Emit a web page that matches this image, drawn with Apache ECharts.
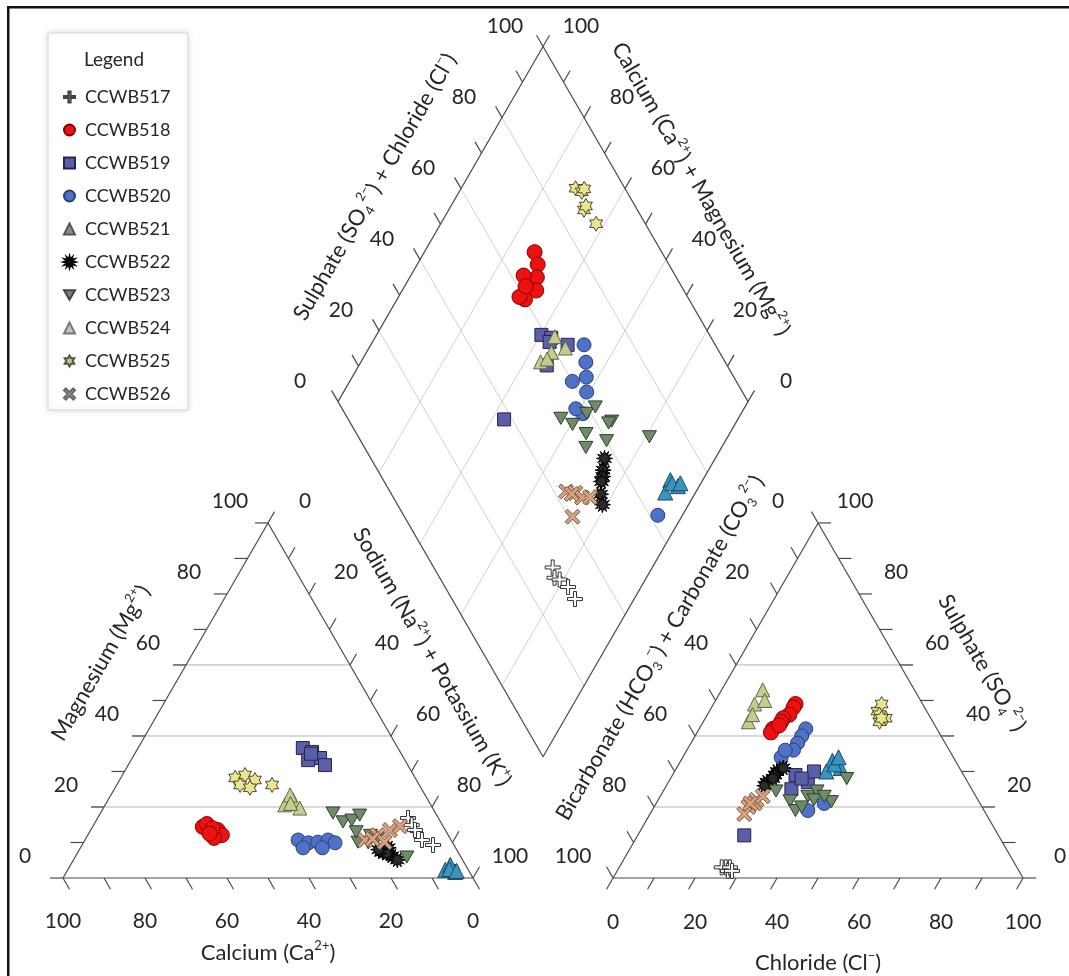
<!DOCTYPE html>
<html><head><meta charset="utf-8">
<script src="https://cdn.jsdelivr.net/npm/echarts@6/dist/echarts.min.js"></script>
<style>html,body{margin:0;padding:0;background:#fff}#c{width:1069px;height:976px}</style>
</head><body><div id="c"></div>
<script>
// ================= DATA =================
const seriesNames = ['CCWB517','CCWB518','CCWB519','CCWB520','CCWB521','CCWB522','CCWB523','CCWB524','CCWB525','CCWB526'];
// cations per sample: [Ca, Mg, Na+K] (% meq)
const cat517 = [[7.4,16.9,75.7],[7.5,14.9,77.6],[7.4,13.5,79.1],[7.1,10.7,82.2],[5.1,9.3,85.6]];
const cat518 = [[58.7,14.4,26.9],[57.6,13.0,29.4],[55.5,13.5,31.0],[55.2,12.1,32.7],[57.3,15.2,27.5],[57.5,11.3,31.2],[56.5,14.0,29.5],[58.0,12.5,29.5]];
const cat519 = [[23.2,36.6,40.2],[21.5,35.5,43.0],[20.4,33.8,45.8],[20.2,31.8,48.0],[23.6,33.2,43.2],[22.0,35.0,43.0]];
const cat520 = [[37.3,10.7,52.0],[35.2,9.9,54.9],[32.8,10.1,57.1],[30.0,10.7,59.3],[28.7,9.9,61.4],[37.2,8.5,54.3],[32.5,8.5,59.0],[4.0,2.0,94.0]];
const cat521 = [[5.6,2.3,92.1],[3.5,1.7,94.8],[3.7,3.7,92.6],[4.5,2.5,93.0],[3.0,2.0,95.0]];
const cat522 = [[18.4,7.3,74.3],[16.7,6.2,77.1],[16.4,8.5,75.1],[15.9,5.1,79.0],[17.5,7.0,75.5],[19.0,8.0,73.0]];
const cat523 = [[25.0,18.3,56.7],[23.8,15.8,60.4],[21.4,16.3,62.3],[18.8,17.7,63.5],[23.0,10.1,66.9],[20.6,9.9,69.5],[17.7,11.3,71.0],[13.2,5.9,80.9],[22.0,13.0,65.0],[19.0,12.0,69.0]];
const cat524 = [[35.6,20.6,43.8],[32.9,22.0,45.1],[32.4,19.7,47.9],[32.9,23.4,43.7],[34.0,21.0,45.0]];
const cat525 = [[43.9,28.2,27.9],[41.1,29.0,29.9],[39.4,27.6,33.0],[43.7,26.2,30.1],[41.7,25.4,32.9],[35.9,26.2,37.9]];
const cat526 = [[21.0,10.7,68.3],[17.2,12.1,70.7],[13.5,13.5,73.0],[10.5,14.6,74.9],[16.5,10.1,73.4],[19.0,11.0,70.0]];
// anions per sample: [HCO3+CO3, SO4, Cl] (% meq)
const an517 = [[71,3,26],[72,3,25],[71,2,27],[70,3,27],[70,2,28]];
const an518 = [[31,49,20],[32,48,20],[34,46,20],[36,45,19],[37,44,19],[40,42,18],[41,41,18],[38,43,19]];
const an519 = [[41,29,30],[39,27,34],[44,25,31],[36,30,34],[40,28,32],[62,12,26]];
const an520 = [[32,42,26],[34,40,26],[36,38,26],[38,36,26],[42,34,24],[40,36,24],[43,19,38],[38,21,41]];
const an521 = [[30,33,37],[29,31,40],[33,30,37],[30,32,38],[28,34,38]];
const an522 = [[45,30,25],[49,27,24],[46,29,25],[50,26,24],[47,28,25],[43,31,26]];
const an523 = [[48,24.5,27.5],[46,21.7,32.3],[41,23,36],[38,24.5,37.5],[46,19,35],[36,21.5,42.5],[40,22,38],[29,28,43],[44,20,36],[37,23,40]];
const an524 = [[45,44,11],[41,49,10],[37,53,10],[38,50,12],[43,46,11]];
const an525 = [[12,47,41],[11,45,44],[13,44,43],[10,49,41],[12,46,42],[12,45,43]];
const an526 = [[57,20,23],[55,21,24],[54,22,24],[52,23,25],[59,18,23],[56,21,23]];
// tick values / labels
const tickValues = [0,20,40,60,80,100];
const tickLabels = ['0','20','40','60','80','100'];
const minorTicks = [0,10,20,30,40,50,60,70,80,90,100];
// axis titles
const titleCa = 'Calcium (Ca^{2+})';
const titleMg = 'Magnesium (Mg^{2+})';
const titleNa = 'Sodium (Na^{2+}) + Potassium (K^{+})';
const titleCl = 'Chloride (Cl^{−})';
const titleSO4 = 'Sulphate (SO_{4}^{2−})';
const titleHCO3 = 'Bicarbonate (HCO_{3}^{−}) + Carbonate (CO_{3}^{2−})';
const titleSC = 'Sulphate (SO_{4}^{2−}) + Chloride (Cl^{−})';
const titleCM = 'Calcium (Ca^{2+}) + Magnesium (Mg^{2+})';

const SAMPLES = {
  CCWB517:{cat:cat517,an:an517}, CCWB518:{cat:cat518,an:an518}, CCWB519:{cat:cat519,an:an519},
  CCWB520:{cat:cat520,an:an520}, CCWB521:{cat:cat521,an:an521}, CCWB522:{cat:cat522,an:an522},
  CCWB523:{cat:cat523,an:an523}, CCWB524:{cat:cat524,an:an524}, CCWB525:{cat:cat525,an:an525},
  CCWB526:{cat:cat526,an:an526}
};

// ================= GEOMETRY =================
const FONT = 'Lato, "Open Sans", sans-serif';
const TXT = '#262626';
const PX = 410, X0 = 63, Y0 = 878, WPX = 1069, HPX = 976;
const u = p => p / PX;
const H = Math.sqrt(3) / 2;
const G = 0.3416;
const RX = 1 + G;
const B = [1 + G / 2, G / 2 * Math.sqrt(3)];
const add = (p, d) => [p[0] + d[0], p[1] + d[1]];
const scl = (d, k) => [d[0] * k, d[1] * k];

const mgP = v => [v / 200, v / 100 * H];
const naP = v => [0.5 + v / 200, H * (1 - v / 100)];
const caP = v => [(100 - v) / 100, 0];
const soP = v => [RX + 1 - v / 200, v / 100 * H];
const hcP = v => [RX + (100 - v) / 200, (100 - v) / 100 * H];
const clP = v => [RX + v / 100, 0];
const dP = (cm, sc) => [B[0] + 0.5 * (sc - cm) / 100, B[1] + H * (sc + cm) / 100];

function catXY(c) { const s = c[0] + c[1] + c[2]; return [(c[2] + c[1] / 2) / s, c[1] / s * H]; }
function anXY(a) { const s = a[0] + a[1] + a[2]; return [RX + (a[2] + a[1] / 2) / s, a[1] / s * H]; }
function diaXY(c, a) {
  const cm = (c[0] + c[1]) / (c[0] + c[1] + c[2]) * 100;
  const sc = (a[1] + a[2]) / (a[0] + a[1] + a[2]) * 100;
  return dP(cm, sc);
}

// ---- line segments (grid, edges, ticks) ----
const segs = [];
const EDGE = '#4a4a4a', GRID_T = '#b3b3b3', GRID_D = '#d2d2d2';
const seg = (a, b, c, w) => segs.push([a, b, c, w]);
const t = u(13);
[20, 40, 60].forEach(v => {
  seg(add(mgP(v), [-t, 0]), naP(100 - v), GRID_T, 1);
  seg(hcP(100 - v), add(soP(v), [t, 0]), GRID_T, 1);
});
[20, 40, 60, 80].forEach(v => {
  seg(dP(0, v), dP(100, v), GRID_D, 1);
  seg(dP(v, 0), dP(v, 100), GRID_D, 1);
});
seg(caP(100), caP(0), EDGE, 1.2); seg(caP(0), mgP(100), EDGE, 1.2); seg(mgP(100), caP(100), EDGE, 1.2);
seg(clP(0), clP(100), EDGE, 1.2); seg(clP(100), soP(100), EDGE, 1.2); seg(soP(100), clP(0), EDGE, 1.2);
seg(dP(0, 0), dP(100, 0), EDGE, 1.2); seg(dP(100, 0), dP(100, 100), EDGE, 1.2);
seg(dP(100, 100), dP(0, 100), EDGE, 1.2); seg(dP(0, 100), dP(0, 0), EDGE, 1.2);
minorTicks.forEach(v => {
  seg(mgP(v), add(mgP(v), [-t, 0]), EDGE, 1.2);
  seg(naP(v), add(naP(v), scl([0.5, H], t)), EDGE, 1.2);
  seg(caP(v), add(caP(v), scl([0.5, -H], t)), EDGE, 1.2);
  seg(soP(v), add(soP(v), [t, 0]), EDGE, 1.2);
  seg(hcP(v), add(hcP(v), scl([-0.5, H], t)), EDGE, 1.2);
  seg(clP(v), add(clP(v), scl([-0.5, -H], t)), EDGE, 1.2);
  seg(dP(100, v), add(dP(100, v), scl([-0.5, H], t)), EDGE, 1.2);
  seg(dP(v, 100), add(dP(v, 100), scl([0.5, H], t)), EDGE, 1.2);
});

// ---- texts ----
const texts = [];
const TICK_FS = 21, TITLE_FS = 22;
tickValues.forEach((v, i) => {
  const s = tickLabels[i];
  texts.push({p: add(mgP(v), [u(-38), u(22)]), s, size: TICK_FS});
  texts.push({p: add(naP(v), [u(37), u(22)]), s, size: TICK_FS});
  texts.push({p: add(caP(v), [0, u(-43)]), s, size: TICK_FS});
  texts.push({p: add(soP(v), [u(37), u(22)]), s, size: TICK_FS});
  texts.push({p: add(hcP(v), [u(-40), u(22)]), s, size: TICK_FS});
  texts.push({p: add(clP(v), [0, u(-44)]), s, size: TICK_FS});
  texts.push({p: add(dP(100, v), [u(-38), u(20)]), s, size: TICK_FS});
  texts.push({p: add(dP(v, 100), [u(38), u(20)]), s, size: TICK_FS});
});
texts.push({p: [0.5, u(-75)], s: titleCa, size: TITLE_FS, rich: true});
texts.push({p: [RX + 0.5, u(-85)], s: titleCl, size: TITLE_FS, rich: true});
texts.push({p: [u(38), u(215)], s: titleMg, size: TITLE_FS, rich: true, rot: 60});
texts.push({p: [u(369), u(221)], s: titleNa, size: TITLE_FS, rich: true, rot: -60});
texts.push({p: [u(919), u(215)], s: titleSO4, size: TITLE_FS, rich: true, rot: -60});
texts.push({p: [u(597), u(230)], s: titleHCO3, size: TITLE_FS, rich: true, rot: 60});
texts.push({p: [u(312), u(691)], s: titleSC, size: TITLE_FS, rich: true, rot: 60});
texts.push({p: [u(638), u(689)], s: titleCM, size: TITLE_FS, rich: true, rot: -60});

function richify(s) {
  let out = '', last = 0, m; const re = /([\^_])\{([^}]*)\}/g;
  while ((m = re.exec(s))) {
    if (m.index > last) out += '{n|' + s.slice(last, m.index) + '}';
    out += '{' + (m[1] === '^' ? 'sup' : 'sub') + '|' + m[2] + '}';
    last = re.lastIndex;
  }
  if (last < s.length) out += '{n|' + s.slice(last) + '}';
  return out;
}
const RICH = fs => ({
  n: {fontSize: fs, fontFamily: FONT, fill: TXT, lineHeight: fs + 6, verticalAlign: 'middle'},
  sup: {fontSize: Math.round(fs * 0.6), fontFamily: FONT, fill: TXT, verticalAlign: 'top', lineHeight: fs * 0.6 + 2},
  sub: {fontSize: Math.round(fs * 0.6), fontFamily: FONT, fill: TXT, verticalAlign: 'bottom', lineHeight: fs * 0.6 + 2}
});

// ---- marker shapes ----
function polyPath(pts) { return 'path://M' + pts.map(p => p[0].toFixed(2) + ',' + p[1].toFixed(2)).join('L') + 'Z'; }
function starPath(n, r2) {
  const pts = [];
  for (let i = 0; i < 2 * n; i++) { const r = i % 2 ? r2 : 1; const a = Math.PI * i / n; pts.push([50 + 50 * r * Math.sin(a), 50 - 50 * r * Math.cos(a)]); }
  return polyPath(pts);
}
function crossPath(w, rot) {
  const base = [[-w,-1],[w,-1],[w,-w],[1,-w],[1,w],[w,w],[w,1],[-w,1],[-w,w],[-1,w],[-1,-w],[-w,-w]];
  const c = Math.cos(rot), s = Math.sin(rot);
  return polyPath(base.map(([x, y]) => [50 + 50 * (x * c - y * s), 50 + 50 * (x * s + y * c)]));
}
const INV_TRI = 'path://M0,0L100,0L50,86.6Z';
const STY = {
  CCWB517: {sym: crossPath(0.2, 0), size: 15, fill: '#ffffff', line: '#333333'},
  CCWB518: {sym: 'circle', size: 15, fill: '#ee1111', line: '#8a0000'},
  CCWB519: {sym: 'rect', size: 13, fill: '#5b5ea8', line: '#25264d'},
  CCWB520: {sym: 'circle', size: 14, fill: '#4f72c6', line: '#2a3f78'},
  CCWB521: {sym: 'triangle', size: 15, fill: '#3b93bf', line: '#1b4c66'},
  CCWB522: {sym: starPath(12, 0.5), size: 16, fill: '#2a2a2a', line: '#000000'},
  CCWB523: {sym: INV_TRI, size: 14, fill: '#6f8c68', line: '#2f3d2c'},
  CCWB524: {sym: 'triangle', size: 14, fill: '#c6cc8e', line: '#62654a'},
  CCWB525: {sym: starPath(6, 0.58), size: 15, fill: '#ece58e', line: '#4a4a30'},
  CCWB526: {sym: crossPath(0.2, Math.PI / 4), size: 15, fill: '#d8a27f', line: '#7a5540'}
};
const LEGEND_STYLE = {
  CCWB517: {color: '#f4f4f4', borderColor: '#444444'},
  CCWB521: {color: '#8c8c8c', borderColor: '#555555'},
  CCWB523: {color: '#7d7d7d', borderColor: '#444444'},
  CCWB524: {color: '#c4c4c4', borderColor: '#777777'},
  CCWB525: {color: '#c9c48a', borderColor: '#555544'},
  CCWB526: {color: '#a8a8a8', borderColor: '#666666'}
};

const scatterSeries = seriesNames.map(n => {
  const st = STY[n], s = SAMPLES[n];
  const data = [].concat(s.cat.map(catXY), s.an.map(anXY), s.cat.map((c, i) => diaXY(c, s.an[i])));
  return {
    name: n, type: 'scatter', data, symbol: st.sym, symbolSize: st.size, symbolKeepAspect: true,
    itemStyle: {color: st.fill, borderColor: st.line, borderWidth: 1, opacity: 1},
    z: 3, silent: true, emphasis: {disabled: true}, animation: false
  };
});

const chart = echarts.init(document.getElementById('c'), null, {renderer: 'canvas', width: WPX, height: HPX});
chart.setOption({
  animation: false,
  backgroundColor: '#ffffff',
  grid: {left: 0, right: 0, top: 0, bottom: 0, containLabel: false, outerBoundsMode: 'none'},
  xAxis: {type: 'value', min: -X0 / PX, max: (WPX - X0) / PX, show: false},
  yAxis: {type: 'value', min: -(HPX - Y0) / PX, max: Y0 / PX, show: false},
  legend: {
    orient: 'vertical', left: 58, top: 82, itemWidth: 11, itemHeight: 11, itemGap: 13,
    selectedMode: false, z: 6,
    textStyle: {fontSize: 18, fontFamily: FONT, color: TXT, lineHeight: 20, padding: [0, 0, 0, 5]},
    data: seriesNames.map(n => LEGEND_STYLE[n] ? {name: n, itemStyle: LEGEND_STYLE[n]} : {name: n})
  },
  graphic: [
    {type: 'rect', z: 1, shape: {x: 48, y: 33, width: 140, height: 377},
     style: {fill: '#ffffff', stroke: '#d6d6d6', lineWidth: 1, shadowBlur: 6, shadowColor: 'rgba(0,0,0,0.15)'}},
    {type: 'text', z: 7, x: 114, y: 60,
     style: {text: 'Legend', fontSize: 19, fontFamily: FONT, fill: TXT, align: 'center', verticalAlign: 'middle', textAlign: 'center', textVerticalAlign: 'middle'}},
    {type: 'rect', z: 7, shape: {x: 7, y: 6, width: 1062, height: 2.5}, style: {fill: '#111111'}},
    {type: 'rect', z: 7, shape: {x: 7, y: 6, width: 2.5, height: 970}, style: {fill: '#111111'}}
  ],
  series: [
    {
      type: 'custom', coordinateSystem: 'cartesian2d', silent: true, z: 1, clip: false,
      data: [[0, 0]],
      renderItem: (params, api) => ({
        type: 'group',
        children: segs.map(s => {
          const a = api.coord(s[0]), b = api.coord(s[1]);
          return {type: 'line', shape: {x1: a[0], y1: a[1], x2: b[0], y2: b[1]}, style: {stroke: s[2], lineWidth: s[3]}};
        })
      })
    },
    {
      type: 'custom', coordinateSystem: 'cartesian2d', silent: true, z: 2, clip: false,
      data: texts.map(x => [x.p[0], x.p[1]]),
      renderItem: (params, api) => {
        const tx = texts[params.dataIndex];
        const c = api.coord(tx.p);
        return {
          type: 'text', x: c[0], y: c[1], rotation: (tx.rot || 0) * Math.PI / 180,
          style: {
            text: tx.rich ? richify(tx.s) : tx.s, rich: tx.rich ? RICH(tx.size) : undefined,
            fontSize: tx.size, fontFamily: FONT, fill: TXT,
            align: 'center', verticalAlign: 'middle', textAlign: 'center', textVerticalAlign: 'middle'
          }
        };
      }
    }
  ].concat(scatterSeries)
});
</script>
</body></html>
